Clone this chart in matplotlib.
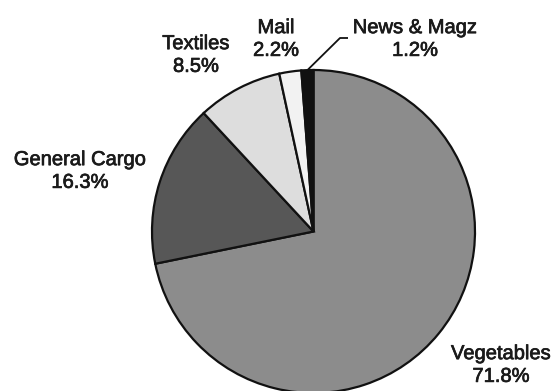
import numpy as np
import matplotlib
matplotlib.use('Agg')
import matplotlib.pyplot as plt
import matplotlib.patheffects as pe

# cargo shares (%), clockwise from 12 o'clock
categories = ["Vegetables", "General Cargo", "Textiles", "Mail", "News & Magz"]
shares = [71.8, 16.3, 8.5, 2.2, 1.2]
colors = ['#8c8c8c', '#575757', '#dddddd', '#f2f2f2', '#111111']

plt.rcParams['font.family'] = ['Liberation Sans', 'DejaVu Sans']

W, H = 557, 391
fig = plt.figure(figsize=(W / 100, H / 100), dpi=100)
ax = fig.add_axes([0, 0, 1, 1])

cx, cy, r = 313.5, H - 231.5, 161.5
wedges, _ = ax.pie(shares, colors=colors, startangle=90, counterclock=False,
                   center=(cx, cy), radius=r, normalize=True,
                   wedgeprops=dict(edgecolor='#111111', linewidth=1.6))

ax.set_xlim(0, W)
ax.set_ylim(0, H)
ax.set_aspect('equal')
ax.axis('off')

# label centres in pixel coords (from top-left)
label_pos = {
    "Vegetables": (501, 365),
    "General Cargo": (80, 171),
    "Textiles": (196, 55),
    "Mail": (276, 39),
    "News & Magz": (415, 39),
}
for name, val in zip(categories, shares):
    x, y = label_pos[name]
    ax.text(x, H - y, f"{name}\n{val}%", ha='center', va='center',
            fontsize=14.5, color='#1a1a1a', linespacing=1.25,
            path_effects=[pe.withStroke(linewidth=0.5, foreground='#1a1a1a')])

# leader line for the thin News & Magz wedge
w = wedges[-1]
mid = np.deg2rad((w.theta1 + w.theta2) / 2)
px, py = cx + r * np.cos(mid), cy + r * np.sin(mid)
ax.plot([px, 340, 348], [py, H - 38, H - 38], color='#111111', lw=1.3,
        solid_capstyle='butt')

fig.savefig('out.png', dpi=100, facecolor='white')
